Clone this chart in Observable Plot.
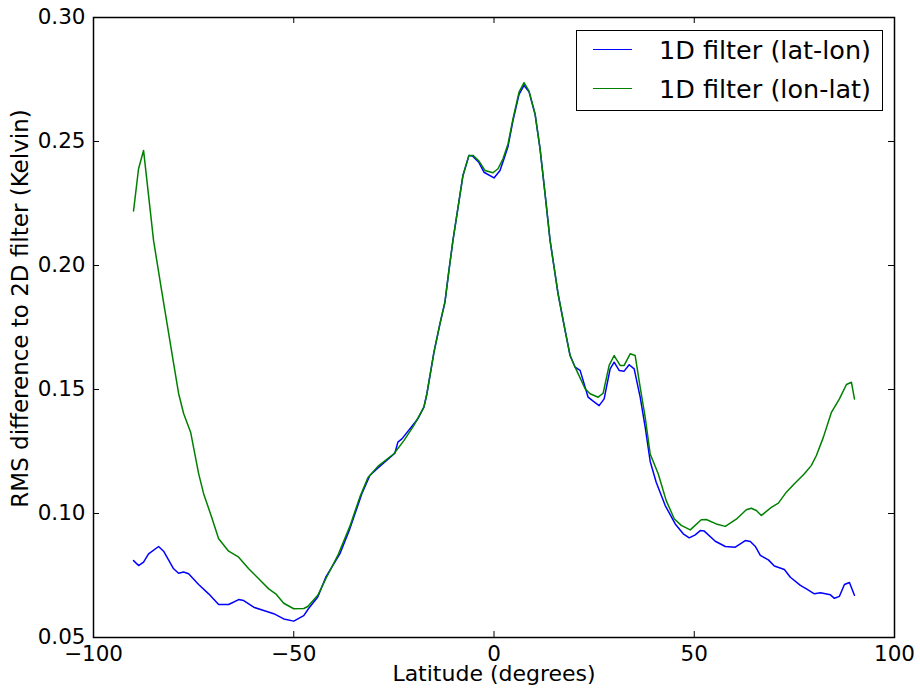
<!DOCTYPE html>
<html>
<head>
<meta charset="utf-8">
<script src="https://cdn.jsdelivr.net/npm/d3@7"></script>
<script src="https://cdn.jsdelivr.net/npm/@observablehq/plot@0.6"></script>
<style>
  html, body { margin: 0; padding: 0; background: white; }
  #wrap { position: relative; width: 920px; height: 691px; font-family: "DejaVu Sans", sans-serif; }
  #legend { position: absolute; left: 576px; top: 30px; width: 307px; height: 81px; box-sizing: border-box; border: 1.5px solid black; background: white; }
  .row { position: absolute; left: 0; height: 40px; width: 100%; }
  .sw { position: absolute; left: 16px; width: 39px; height: 0; top: 19px; border-top: 1.5px solid; }
  .lab { position: absolute; left: 82px; top: 0; height: 40px; line-height: 40px; font-size: 25.5px; white-space: nowrap; color: black; }
</style>
</head>
<body>
<div id="wrap"></div>
<script>
// Latitude (degrees) and RMS difference (Kelvin)
const latBlue = [-90, -88.75, -87.5, -86.25, -83.75, -82.5, -80, -78.75, -77.5, -76.25, -73.75, -71.25, -68.75, -66.25, -63.75, -62.5, -60, -57.5, -55, -52.5, -50, -47.5, -46.25, -44, -42, -38.5, -36, -33, -31, -29.25, -24.75, -24, -23, -19, -17.5, -16.75, -15, -13.5, -12.25, -11.25, -10.25, -7.75, -6.25, -5.25, -3.75, -2.5, 0, 1.5, 2.5, 3.5, 4.75, 6.25, 7.5, 8.75, 10.25, 11.5, 12.75, 14, 16, 17.75, 19, 20.25, 21.5, 23.5, 24.75, 26.25, 27.5, 29, 30, 31.25, 32.5, 33.75, 35, 36.5, 37.75, 39, 40.5, 42.75, 45.25, 47.25, 48.75, 50.25, 51.5, 52.5, 55.25, 57.75, 60.25, 62.75, 64, 65.25, 66.5, 68.5, 70, 72.5, 74, 76.5, 78, 80, 81.5, 84, 85, 86.25, 87.5, 88.75, 90];
const rmsBlue = [0.0810, 0.0790, 0.0804, 0.0837, 0.0867, 0.0848, 0.0777, 0.0759, 0.0764, 0.0757, 0.0714, 0.0676, 0.0633, 0.0633, 0.0653, 0.0649, 0.0622, 0.0609, 0.0596, 0.0575, 0.0566, 0.0588, 0.0618, 0.0663, 0.0743, 0.0837, 0.0938, 0.1080, 0.1153, 0.1180, 0.1243, 0.1288, 0.1301, 0.1382, 0.1429, 0.1483, 0.1650, 0.1765, 0.1852, 0.1980, 0.2101, 0.2363, 0.2444, 0.2440, 0.2415, 0.2376, 0.2353, 0.2383, 0.2430, 0.2480, 0.2585, 0.2690, 0.2726, 0.2700, 0.2610, 0.2470, 0.2289, 0.2101, 0.1886, 0.1738, 0.1637, 0.1590, 0.1577, 0.1469, 0.1453, 0.1435, 0.1462, 0.1583, 0.1610, 0.1577, 0.1574, 0.1600, 0.1583, 0.1469, 0.1348, 0.1210, 0.1126, 0.1032, 0.0958, 0.0918, 0.0902, 0.0914, 0.0931, 0.0929, 0.0888, 0.0867, 0.0864, 0.0891, 0.0887, 0.0867, 0.0831, 0.0813, 0.0788, 0.0774, 0.0743, 0.0710, 0.0696, 0.0676, 0.0680, 0.0672, 0.0658, 0.0666, 0.0714, 0.0722, 0.0670];

const latGreen = [-90, -88.75, -87.5, -85, -83, -80, -78.75, -77.5, -75.75, -73.75, -72.5, -70.5, -68.75, -66.25, -63.75, -61.25, -58.75, -56.25, -54.5, -52.5, -50, -47.5, -46.5, -44, -42, -39, -36, -33.5, -31.5, -29, -25, -22.5, -20, -17.5, -16.75, -15, -13.5, -12.25, -11.25, -10.25, -7.75, -6.25, -5.25, -3.75, -2.25, -0.25, 1, 2.25, 3.5, 4.75, 6.25, 7.5, 8.75, 10.25, 11.5, 12.75, 14, 16, 17.75, 19, 20.25, 22.75, 24, 26, 27.25, 28.75, 30, 31.5, 32.5, 34, 35.25, 36.5, 37.75, 39, 41, 43, 45, 46.75, 49, 51.75, 53, 55.5, 57.75, 60.5, 63, 64.25, 65.5, 66.75, 69.25, 71, 73, 75, 77.5, 79.25, 80.5, 82.25, 84.25, 86.25, 88, 89.25, 90];
const rmsGreen = [0.2220, 0.2390, 0.2464, 0.2100, 0.1900, 0.1605, 0.1484, 0.1403, 0.1328, 0.1161, 0.1080, 0.0985, 0.0898, 0.0848, 0.0824, 0.0777, 0.0737, 0.0696, 0.0676, 0.0638, 0.0616, 0.0617, 0.0625, 0.0670, 0.0737, 0.0831, 0.0948, 0.1066, 0.1144, 0.1190, 0.1241, 0.1294, 0.1355, 0.1429, 0.1483, 0.1650, 0.1765, 0.1852, 0.1980, 0.2101, 0.2363, 0.2444, 0.2444, 0.2421, 0.2383, 0.2374, 0.2390, 0.2430, 0.2490, 0.2592, 0.2699, 0.2737, 0.2703, 0.2612, 0.2471, 0.2289, 0.2101, 0.1886, 0.1738, 0.1637, 0.1590, 0.1503, 0.1483, 0.1469, 0.1485, 0.1597, 0.1637, 0.1597, 0.1597, 0.1644, 0.1637, 0.1509, 0.1388, 0.1240, 0.1160, 0.1052, 0.0979, 0.0952, 0.0934, 0.0975, 0.0976, 0.0958, 0.0948, 0.0977, 0.1015, 0.1021, 0.1012, 0.0992, 0.1025, 0.1042, 0.1086, 0.1120, 0.1160, 0.1194, 0.1234, 0.1308, 0.1408, 0.1462, 0.1520, 0.1529, 0.1462];

const seriesNames = ["1D filter (lat-lon)", "1D filter (lon-lat)"];
const seriesColors = ["#0000ff", "#008000"];
const xTicks = [-100, -50, 0, 50, 100];
const yTicks = [0.05, 0.10, 0.15, 0.20, 0.25, 0.30];
const xLabel = "Latitude (degrees)";
const yLabel = "RMS difference to 2D filter (Kelvin)";

const blue = latBlue.map((lat, i) => ({lat, rms: rmsBlue[i]}));
const green = latGreen.map((lat, i) => ({lat, rms: rmsGreen[i]}));

const W = 920, H = 691, mL = 93, mR = 26, mT = 17, mB = 54;
const innerW = W - mL - mR, innerH = H - mT - mB, tickLen = 6;

const chart = Plot.plot({
  width: W, height: H,
  marginLeft: mL, marginRight: mR, marginTop: mT, marginBottom: mB,
  style: {fontFamily: "DejaVu Sans", fontSize: "21px", color: "black", background: "white"},
  x: {domain: [-100, 100]},
  y: {domain: [0.05, 0.30]},
  marks: [
    Plot.axisX(xTicks, {tickSize: 0, tickPadding: 8, tickFormat: d => d3.format("d")(d).replace("-", "\u2212"), label: null, fontSize: 21.5}),
    Plot.axisY(yTicks, {tickSize: 0, tickPadding: 8, tickFormat: d3.format(".2f"), label: null, fontSize: 21.5}),
    Plot.tickX(xTicks, {x: d => d, insetTop: innerH - tickLen, stroke: "black"}),
    Plot.tickX(xTicks, {x: d => d, insetBottom: innerH - tickLen, stroke: "black"}),
    Plot.tickY(yTicks, {y: d => d, insetRight: innerW - tickLen, stroke: "black"}),
    Plot.tickY(yTicks, {y: d => d, insetLeft: innerW - tickLen, stroke: "black"}),
    Plot.line(blue, {x: "lat", y: "rms", stroke: seriesColors[0], strokeWidth: 1.5}),
    Plot.line(green, {x: "lat", y: "rms", stroke: seriesColors[1], strokeWidth: 1.5}),
    Plot.frame({stroke: "black", strokeWidth: 1.5}),
    Plot.text([xLabel], {text: d => d, frameAnchor: "bottom", dy: 43, fontSize: 22}),
    Plot.text([yLabel], {text: d => d, frameAnchor: "left", textAnchor: "middle", rotate: -90, dx: -73, dy: -19, fontSize: 23})
  ]
});

const wrap = document.getElementById("wrap");
wrap.appendChild(chart);

const legend = document.createElement("div");
legend.id = "legend";
const rowCenters = [19, 58];
seriesNames.forEach((name, i) => {
  const row = document.createElement("div");
  row.className = "row";
  row.style.top = (rowCenters[i] - 20) + "px";
  const sw = document.createElement("div");
  sw.className = "sw";
  sw.style.borderTopColor = seriesColors[i];
  const lab = document.createElement("div");
  lab.className = "lab";
  lab.textContent = name;
  row.appendChild(sw);
  row.appendChild(lab);
  legend.appendChild(row);
});
wrap.appendChild(legend);
</script>
</body>
</html>
